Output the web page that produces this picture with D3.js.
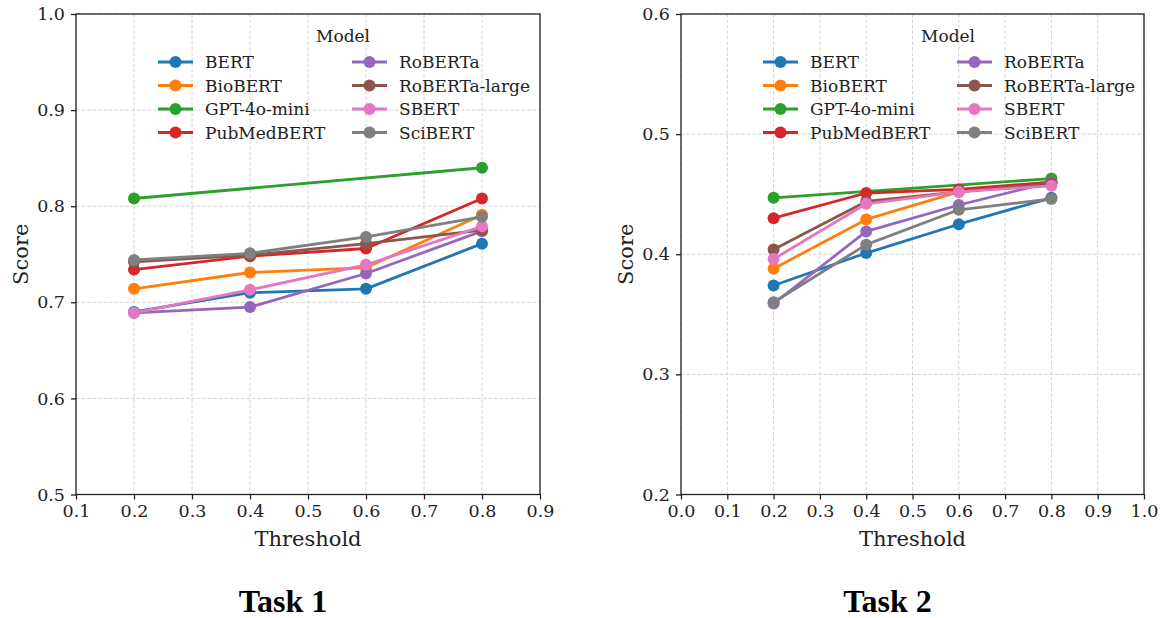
<!DOCTYPE html>
<html><head><meta charset="utf-8">
<script src="https://cdn.jsdelivr.net/npm/d3@7"></script>
<style>body{margin:0;background:#fff}svg{display:block}</style>
</head><body><svg id="c" width="1164" height="618"></svg>
<script>
const models = ["BERT","BioBERT","GPT-4o-mini","PubMedBERT","RoBERTa","RoBERTa-large","SBERT","SciBERT"];
const colors = ["#1f77b4","#ff7f0e","#2ca02c","#d62728","#9467bd","#8c564b","#e377c2","#7f7f7f"];
const thresholds = [0.2,0.4,0.6,0.8];
const gptThresholds = [0.2,0.8];
// Task 1 scores per model at thresholds
const task1BERT = [0.690,0.710,0.714,0.761];
const task1BioBERT = [0.714,0.731,0.736,0.791];
const task1GPT = [0.808,0.840];
const task1PubMedBERT = [0.734,0.748,0.756,0.808];
const task1RoBERTa = [0.689,0.695,0.730,0.774];
const task1RoBERTaLarge = [0.742,0.749,0.761,0.775];
const task1SBERT = [0.689,0.713,0.739,0.779];
const task1SciBERT = [0.744,0.751,0.768,0.789];
// Task 2
const task2BERT = [0.374,0.401,0.425,0.447];
const task2BioBERT = [0.388,0.429,0.452,0.460];
const task2GPT = [0.447,0.463];
const task2PubMedBERT = [0.430,0.451,0.454,0.460];
const task2RoBERTa = [0.359,0.419,0.441,0.460];
const task2RoBERTaLarge = [0.404,0.444,0.452,0.459];
const task2SBERT = [0.396,0.442,0.452,0.457];
const task2SciBERT = [0.360,0.408,0.437,0.446];
const task1XTicks = [0.1,0.2,0.3,0.4,0.5,0.6,0.7,0.8,0.9];
const task1YTicks = [0.5,0.6,0.7,0.8,0.9,1.0];
const task2XTicks = [0.0,0.1,0.2,0.3,0.4,0.5,0.6,0.7,0.8,0.9,1.0];
const task2YTicks = [0.2,0.3,0.4,0.5,0.6];

const task1 = [task1BERT,task1BioBERT,task1GPT,task1PubMedBERT,task1RoBERTa,task1RoBERTaLarge,task1SBERT,task1SciBERT];
const task2 = [task2BERT,task2BioBERT,task2GPT,task2PubMedBERT,task2RoBERTa,task2RoBERTaLarge,task2SBERT,task2SciBERT];

const svg = d3.select("#c");
const SERIF = "'DejaVu Serif', serif";

function panel(opt){
  const {left,right,top,bottom,xDom,yDom,xTicks,yTicks,data,title,ylabX} = opt;
  const x = d3.scaleLinear().domain(xDom).range([left,right]);
  const y = d3.scaleLinear().domain(yDom).range([bottom,top]);
  const g = svg.append("g");
  // grid
  g.selectAll(".gx").data(xTicks).join("line")
    .attr("x1",d=>x(d)).attr("x2",d=>x(d)).attr("y1",top).attr("y2",bottom)
    .attr("stroke","#cfcfcf").attr("stroke-width",0.9).attr("stroke-dasharray","3.5,2");
  g.selectAll(".gy").data(yTicks).join("line")
    .attr("x1",left).attr("x2",right).attr("y1",d=>y(d)).attr("y2",d=>y(d))
    .attr("stroke","#cfcfcf").attr("stroke-width",0.9).attr("stroke-dasharray","3.5,2");
  // legend
  const lg = g.append("g").attr("font-family",SERIF).attr("font-size",17).attr("fill","#222");
  lg.append("text").attr("x",left+267).attr("y",top+28).attr("text-anchor","middle").text("Model");
  models.forEach((m,i)=>{
    const col = Math.floor(i/4), row = i%4;
    const lx = left + (col===0?82:276);
    const ly = top + 48 + row*23.5;
    lg.append("line").attr("x1",lx).attr("x2",lx+35).attr("y1",ly).attr("y2",ly)
      .attr("stroke",colors[i]).attr("stroke-width",2.8);
    lg.append("circle").attr("cx",lx+17.5).attr("cy",ly).attr("r",6).attr("fill",colors[i]);
    lg.append("text").attr("x",lx+47).attr("y",ly+6).text(m);
  });
  // series
  const line = d3.line().x(d=>x(d[0])).y(d=>y(d[1]));
  data.forEach((vals,i)=>{
    const xs = vals.length===2 ? gptThresholds : thresholds;
    const pts = vals.map((v,j)=>[xs[j],v]);
    g.append("path").attr("d",line(pts)).attr("fill","none")
      .attr("stroke",colors[i]).attr("stroke-width",2.8).attr("stroke-linejoin","round");
    g.selectAll(null).data(pts).join("circle")
      .attr("cx",d=>x(d[0])).attr("cy",d=>y(d[1])).attr("r",6).attr("fill",colors[i]);
  });
  // frame
  g.append("rect").attr("x",left).attr("y",top).attr("width",right-left).attr("height",bottom-top)
    .attr("fill","none").attr("stroke","#222").attr("stroke-width",1.3);
  // axes
  const xa = g.append("g").attr("transform",`translate(0,${bottom})`)
    .call(d3.axisBottom(x).tickValues(xTicks).tickFormat(d3.format(".1f")).tickSize(5).tickPadding(5));
  const ya = g.append("g").attr("transform",`translate(${left},0)`)
    .call(d3.axisLeft(y).tickValues(yTicks).tickFormat(d3.format(".1f")).tickSize(5).tickPadding(6));
  [xa,ya].forEach(a=>{
    a.select(".domain").remove();
    a.selectAll("line").attr("stroke","#222").attr("stroke-width",1.3);
    a.selectAll("text").attr("font-family",SERIF).attr("font-size",17.5).attr("fill","#222");
  });
  g.append("text").attr("x",(left+right)/2).attr("y",bottom+51).attr("text-anchor","middle")
    .attr("font-family",SERIF).attr("font-size",21).attr("fill","#222").text("Threshold");
  g.append("text").attr("transform",`translate(${ylabX},${(top+bottom)/2}) rotate(-90)`)
    .attr("text-anchor","middle").attr("font-family",SERIF).attr("font-size",21).attr("fill","#222").text("Score");
  svg.append("text").attr("x",(left+right)/2 - 25).attr("y",612).attr("text-anchor","middle")
    .attr("font-family","'Liberation Serif', 'Times New Roman', serif").attr("font-weight","bold")
    .attr("font-size",32).attr("fill","#000").text(title);
}

panel({left:76,right:540,top:14,bottom:494.5,xDom:[0.1,0.9],yDom:[0.5,1.0],
  xTicks:task1XTicks,yTicks:task1YTicks,data:task1,title:"Task 1",ylabX:28});
panel({left:681,right:1144,top:14,bottom:494.5,xDom:[0.0,1.0],yDom:[0.2,0.6],
  xTicks:task2XTicks,yTicks:task2YTicks,data:task2,title:"Task 2",ylabX:633});
</script></body></html>
